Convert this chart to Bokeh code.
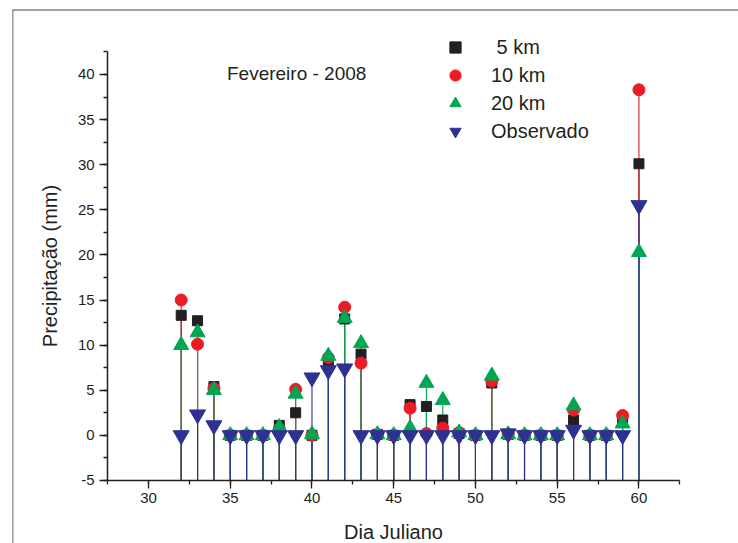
from bokeh.plotting import figure
from bokeh.models import (Range1d, SingleIntervalTicker, Span, Legend, LegendItem, Label,
                          PrintfTickFormatter)
from bokeh.embed import file_html
from bokeh.resources import INLINE

# ---- data ----
days = list(range(32, 61))
km5 = [13.3, 12.7, 5.4, 0.0, 0.0, 0.0, 1.1, 2.5, 0.0, 7.8, 12.9, 9.0, 0.1, 0.0, 3.4,
       3.2, 1.7, 0.2, 0.0, 5.8, 0.1, 0.0, 0.0, 0.0, 1.7, 0.0, 0.0, 1.9, 30.1]
km10 = [15.0, 10.1, 5.2, 0.0, 0.0, 0.0, 0.7, 5.1, 0.0, 8.6, 14.2, 8.0, 0.1, 0.0, 3.0,
        0.2, 0.8, 0.3, 0.0, 6.0, 0.1, 0.0, 0.0, 0.0, 2.8, 0.0, 0.0, 2.2, 38.3]
km20 = [10.0, 11.4, 5.0, 0.0, 0.0, 0.0, 0.9, 4.6, 0.1, 8.8, 13.0, 10.2, 0.1, 0.0, 0.8,
        5.8, 3.9, 0.3, 0.0, 6.6, 0.1, 0.0, 0.0, 0.0, 3.3, 0.0, 0.0, 1.3, 20.3]
obs = [0.0, 2.3, 1.1, 0.0, 0.0, 0.0, 0.0, 0.0, 6.4, 7.2, 7.4, 0.0, 0.0, 0.0, 0.0,
       0.0, 0.0, 0.0, 0.0, 0.0, 0.2, 0.0, 0.0, 0.0, 0.6, 0.0, 0.0, 0.0, 25.5]

series_labels = [" 5 km", "10 km", "20 km", "Observado"]
series_values = [km5, km10, km20, obs]
series_colors = ["#231f20", "#ed1c24", "#00a651", "#2e3192"]
series_markers = ["square", "circle", "triangle", "inverted_triangle"]
series_sizes = [10, 12, 15, 16]

title_text = "Fevereiro - 2008"
x_label = "Dia Juliano"
y_label = "Precipitação (mm)"
x_bounds = (27.5, 62.5)
y_bounds = (-5, 42.5)
baseline = -5

FONT = "Liberation Sans"
TXT = "#231f20"

p = figure(width=738, height=543, output_backend="svg", toolbar_location=None,
           x_range=Range1d(21.68, 66.09), y_range=Range1d(-11.99, 47.2),
           min_border_left=12, min_border_top=9, min_border_right=0, min_border_bottom=0,
           background_fill_color="white", border_fill_color="white")
p.outline_line_color = None
p.grid.visible = False

# outer frame lines (left and top)
p.add_layout(Span(location=p.x_range.start, dimension="height", line_color="#444444", line_width=1.6))
p.add_layout(Span(location=p.y_range.end, dimension="width", line_color="#444444", line_width=1.8))

# axes
xa = p.xaxis[0]
ya = p.yaxis[0]
xa.fixed_location = baseline
ya.fixed_location = x_bounds[0]
xa.bounds = x_bounds
ya.bounds = y_bounds
xa.ticker = SingleIntervalTicker(interval=5, num_minor_ticks=2)
ya.ticker = SingleIntervalTicker(interval=5, num_minor_ticks=2)
for ax in (xa, ya):
    ax.formatter = PrintfTickFormatter(format="%d")
    ax.axis_line_color = TXT
    ax.axis_line_width = 1.5
    ax.major_tick_line_color = TXT
    ax.minor_tick_line_color = TXT
    ax.major_tick_line_width = 1.3
    ax.minor_tick_line_width = 1.3
    ax.major_tick_out = 8
    ax.major_tick_in = 0
    ax.minor_tick_out = 4
    ax.minor_tick_in = 0
    ax.major_label_text_font = FONT
    ax.major_label_text_font_size = "15px"
    ax.major_label_text_color = TXT
    ax.major_label_standoff = 5
    ax.axis_label_text_font = FONT
    ax.axis_label_text_font_style = "normal"
    ax.axis_label_text_color = TXT
    ax.axis_label_text_font_size = "20px"
    ax.axis_label_standoff = 14
xa.axis_label = x_label
ya.axis_label = y_label

# stems (drop lines to bottom axis)
for vals, col in zip(series_values, series_colors):
    p.segment(x0=days, y0=[baseline] * len(days), x1=days, y1=vals,
              line_color=col, line_width=1.1)

# markers
items = []
for vals, col, mk, sz, lab in zip(series_values, series_colors, series_markers,
                                   series_sizes, series_labels):
    r = p.scatter(x=days, y=vals, marker=mk, size=sz, fill_color=col, line_color=col)
    items.append(LegendItem(label=lab, renderers=[r]))

legend = Legend(items=items, location=(429, 398), padding=0, margin=0, spacing=0,
                glyph_width=28, glyph_height=28, label_height=28, label_standoff=22,
                label_text_font=FONT, label_text_font_size="20px", label_text_color=TXT,
                border_line_color=None, background_fill_color=None,
                label_text_baseline="middle")
p.add_layout(legend, "center")

p.add_layout(Label(x=34.8, y=40.1, text=title_text, text_font=FONT,
                   text_font_size="19px", text_color=TXT, text_baseline="middle"))

open("out.html", "w").write(file_html(p, INLINE))
